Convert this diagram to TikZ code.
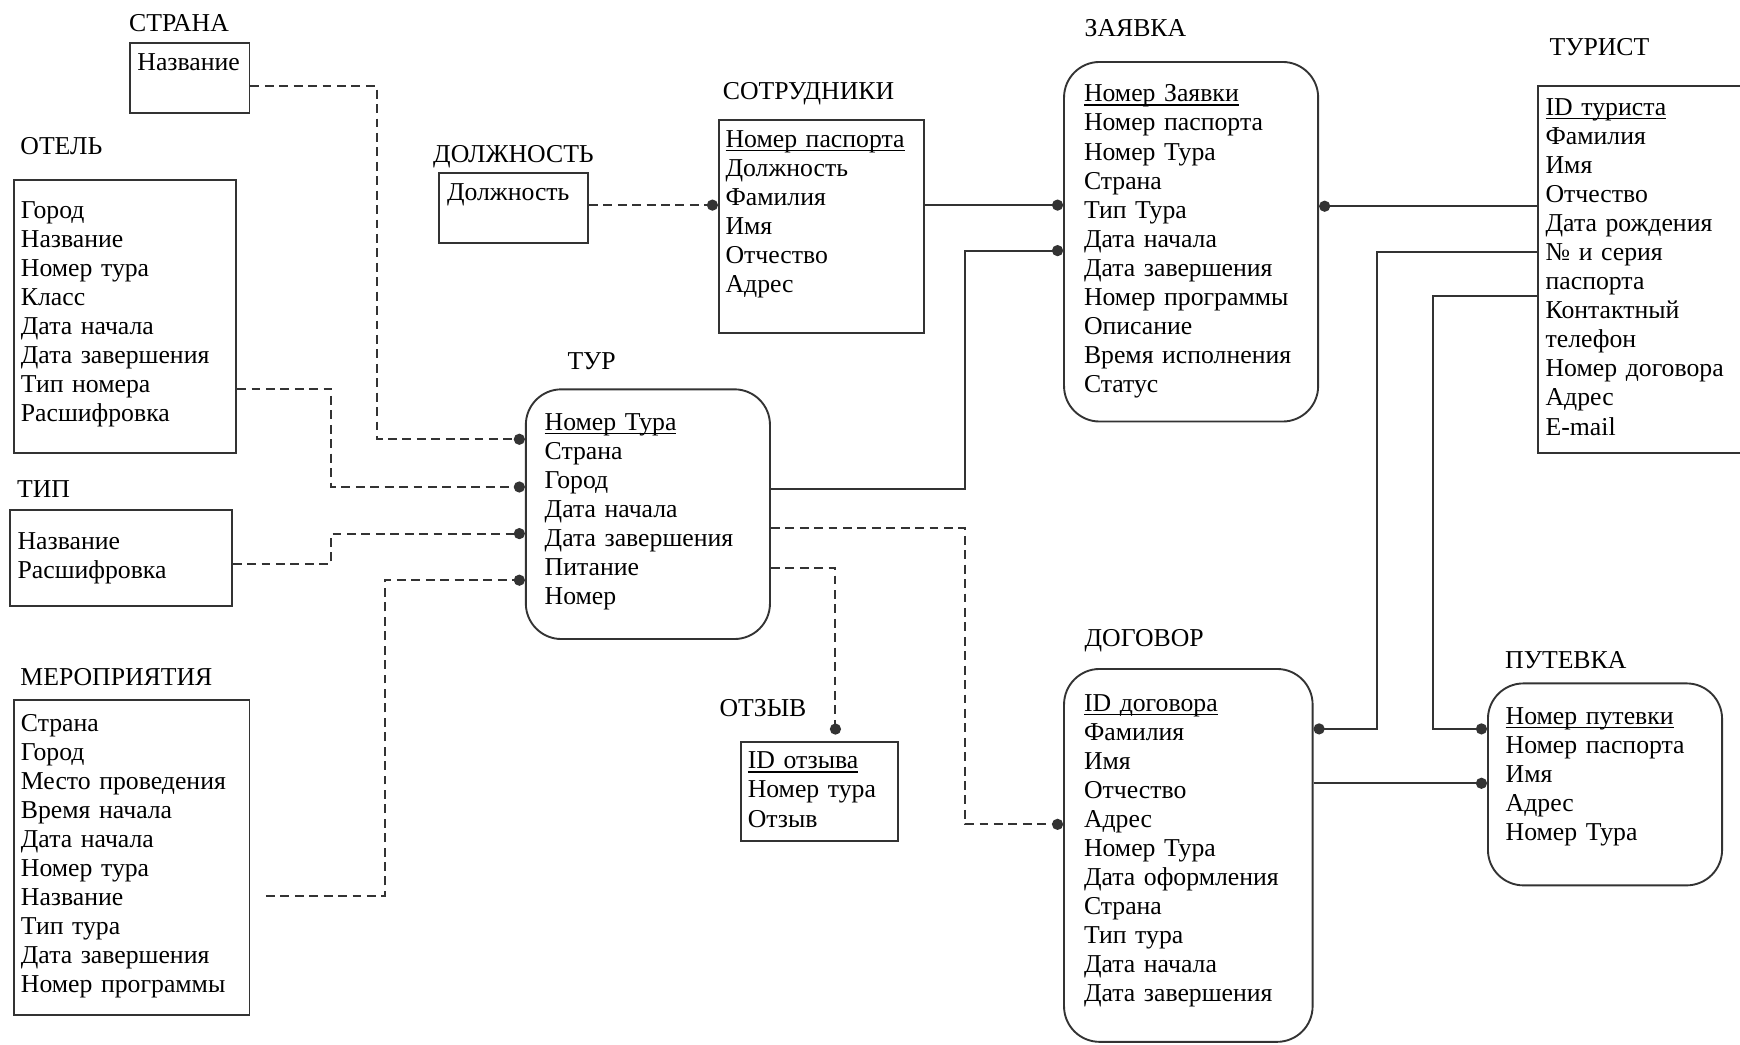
\documentclass[tikz,border=0pt]{standalone}
\usepackage{fontspec}
\setmainfont{Liberation Serif}
\usetikzlibrary{arrows.meta,positioning}
\newcommand{\keyfield}[1]{\setbox0\hbox{#1}\rlap{\rule[-1.7pt]{\wd0}{0.55pt}}\box0}

\begin{document}
\begin{tikzpicture}[
  x=0.5pt, y=-0.5pt,
  every node/.style={font=\fontsize{11.6}{13.1}\selectfont, text=black},
  ent/.style={draw=black!80, line width=0.85pt, anchor=north west,
              align=left, inner ysep=0pt, inner xsep=3.5pt},
  rbox/.style={ent, rounded corners=16pt, inner xsep=8.5pt},
  title/.style={anchor=base west, inner sep=0pt},
  rel/.style={-{Circle[length=5pt]}, line width=0.9pt, draw=black!80},
  dep/.style={rel, dash pattern=on 4pt off 2.5pt}
]
\fill[white] (0,0) rectangle (1568,941);
\useasboundingbox (0,0) rectangle (1568,941);

% left column
\node[ent, text width=47pt, text height=12.5pt, text depth=19pt]
      (strana) at (116,38) {Название};
\node[ent, inner xsep=3pt, text width=94pt, text height=17.5pt, text depth=105.5pt]
      (otel) at (12,161) {Город\\Название\\Номер тура\\Класс\\Дата начала\\Дата завершения\\Тип номера\\Расшифровка};
\node[ent, text width=93pt, text height=17.5pt, text depth=25.5pt]
      (tip) at (8,459) {Название\\Расшифровка};
\node[ent, inner xsep=3pt, text width=100pt, text height=14pt, text depth=128pt]
      (merop) at (12,630) {Страна\\Город\\Место проведения\\Время начала\\Дата начала\\Номер тура\\Название\\Тип тура\\Дата завершения\\Номер программы};

% middle
\node[ent, text width=60pt, text height=12.5pt, text depth=19pt]
      (dolzh) at (395,155) {Должность};
\node[ent, inner xsep=3pt, text width=86.5pt, text height=12.5pt, text depth=83.5pt]
      (sotr) at (647,107) {\keyfield{Номер паспорта}\\Должность\\Фамилия\\Имя\\Отчество\\Адрес};
\node[rbox, text width=93pt, text height=18.5pt, text depth=94pt]
      (tur) at (473,350) {\keyfield{Номер Тура}\\Страна\\Город\\Дата начала\\Дата завершения\\Питание\\Номер};
\node[ent, inner xsep=3pt, text width=64.5pt, text height=12pt, text depth=32.5pt]
      (otzyv) at (667,668) {\keyfield{ID отзыва}\\Номер тура\\Отзыв};

% right
\node[rbox, inner xsep=9pt, text width=96.5pt, text height=18pt, text depth=144pt]
      (zayavka) at (958,55) {\keyfield{Номер Заявки}\\Номер паспорта\\Номер Тура\\Страна\\Тип Тура\\Дата начала\\Дата завершения\\Номер программы\\Описание\\Время исполнения\\Статус};
\node[ent, text width=95.5pt, text height=13pt, text depth=152pt]
      (turist) at (1385,77) {\keyfield{ID туриста}\\Фамилия\\Имя\\Отчество\\Дата рождения\\№ и серия\\паспорта\\Контактный\\телефон\\Номер договора\\Адрес\\E-mail};
\node[rbox, inner xsep=9pt, text width=94pt, text height=19pt, text depth=149pt]
      (dogovor) at (958,602) {\keyfield{ID договора}\\Фамилия\\Имя\\Отчество\\Адрес\\Номер Тура\\Дата оформления\\Страна\\Тип тура\\Дата начала\\Дата завершения};
\node[rbox, inner xsep=8pt, text width=89.5pt, text height=18.5pt, text depth=72.5pt]
      (putevka) at (1340,615) {\keyfield{Номер путевки}\\Номер паспорта\\Имя\\Адрес\\Номер Тура};

% titles
\node[above right=5pt and 0pt of strana.north west, title] (strana-t) {СТРАНА};
\node[above right=11pt and 3pt of otel.north west, title] (otel-t) {ОТЕЛЬ};
\node[above right=5.5pt and 3.5pt of tip.north west, title] (tip-t) {ТИП};
\node[above right=6pt and 3pt of merop.north west, title] (merop-t) {МЕРОПРИЯТИЯ};
\node[above right=4.5pt and -2.5pt of dolzh.north west, title] (dolzh-t) {ДОЛЖНОСТЬ};
\node[above right=8.5pt and 2pt of sotr.north west, title] (sotr-t) {СОТРУДНИКИ};
\node[above right=8.5pt and 19pt of tur.north west, title] (tur-t) {ТУР};
\node[above right=11pt and -9.5pt of otzyv.north west, title] (otzyv-t) {ОТЗЫВ};
\node[above right=11pt and 9.5pt of zayavka.north west, title] (zayavka-t) {ЗАЯВКА};
\node[above right=13.5pt and 5.5pt of turist.north west, title] (turist-t) {ТУРИСТ};
\node[above right=9.5pt and 9.5pt of dogovor.north west, title] (dogovor-t) {ДОГОВОР};
\node[above right=6.5pt and 8pt of putevka.north west, title] (putevka-t) {ПУТЕВКА};

% links into ТУР
\draw[dep] ([yshift=-3.75pt]strana.east) -- ++(57pt,0) |- ([yshift=33.75pt]tur.west);
\draw[dep] ([yshift=-33pt]otel.east) -- ++(42.5pt,0) |- ([yshift=12.25pt]tur.west);
\draw[dep] ([yshift=-2.5pt]tip.east) -- ++(44.5pt,0) |- ([yshift=-8.75pt]tur.west);
\draw[dep] ([xshift=7pt,yshift=-17.5pt]merop.east) -- ++(53.5pt,0) |- ([yshift=-29.75pt]tur.west);

% staff and requests
\draw[dep] ([yshift=1.25pt]dolzh.east) -- ([yshift=1.25pt]dolzh.east -| sotr.west);
\draw[rel] ([yshift=9.5pt]sotr.east) -- ([yshift=9.5pt]sotr.east -| zayavka.west);
\draw[rel] ([yshift=11.25pt]tur.east) -- ++(87.5pt,0) |- ([yshift=-4pt]zayavka.west);
\draw[dep] ([yshift=-6.25pt]tur.east) -- ++(87.5pt,0) |- ([yshift=14pt]dogovor.west);
\draw[dep] ([yshift=-24.25pt]tur.east) -| ([xshift=7.25pt,yshift=3pt]otzyv.north);

% tourist side
\draw[rel] ([yshift=28.5pt]turist.west) -- ([yshift=28.5pt]turist.west -| zayavka.east);
\draw[rel] ([yshift=8pt]turist.west) -- ++(-72pt,0) |- ([yshift=57pt]dogovor.east);
\draw[rel] ([yshift=-12pt]turist.west) -- ++(-47pt,0) |- ([yshift=25pt]putevka.west);
\draw[rel] ([yshift=32.5pt]dogovor.east) -- ([yshift=32.5pt]dogovor.east -| putevka.west);
\end{tikzpicture}
\end{document}
